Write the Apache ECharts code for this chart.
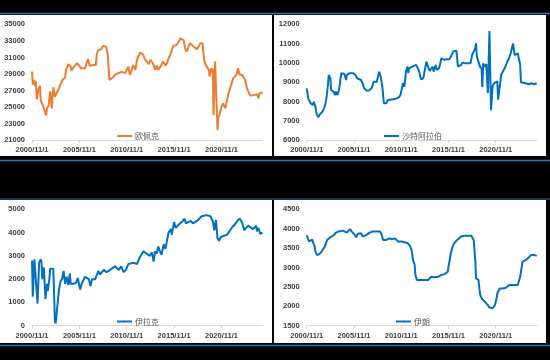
<!DOCTYPE html>
<html><head><meta charset="utf-8">
<script src="https://cdn.jsdelivr.net/npm/echarts@6/dist/echarts.min.js"></script>
<style>html,body{margin:0;padding:0;background:#000}#c{width:550px;height:360px}</style>
</head><body><div id="c"></div>
<script>
// ---- x axis (month index counted from 2000/11) ----
const xTicks = [0, 60, 120, 180, 240];
const xTickLabels = ['2000/11/1', '2005/11/1', '2010/11/1', '2015/11/1', '2020/11/1'];

// ---- 欧佩克 ----
const opecDates = ['2000-11','2000-12','2001-02','2001-03','2001-04','2001-05','2001-07','2001-09','2001-10','2002-01','2002-03','2002-05','2002-06','2002-08','2002-10','2002-12','2003-02','2003-04','2003-06','2003-09','2003-12','2004-02','2004-04','2004-05','2004-06','2004-09','2004-12','2005-01','2005-03','2005-05','2005-08','2005-11','2006-01','2006-03','2006-06','2006-08','2006-10','2006-12','2007-02','2007-05','2007-08','2007-09','2007-11','2008-01','2008-03','2008-05','2008-07','2008-09','2008-11','2009-01','2009-03','2009-06','2009-08','2009-10','2010-01','2010-05','2010-09','2010-11','2011-01','2011-03','2011-05','2011-07','2011-10','2011-12','2012-02','2012-04','2012-06','2012-08','2012-10','2012-12','2013-03','2013-05','2013-07','2013-09','2013-11','2014-01','2014-03','2014-05','2014-07','2014-09','2014-12','2015-02','2015-04','2015-06','2015-08','2015-10','2015-12','2016-02','2016-05','2016-07','2016-09','2016-11','2017-01','2017-03','2017-05','2017-07','2017-09','2017-12','2018-02','2018-04','2018-06','2018-08','2018-10','2018-11','2019-01','2019-03','2019-05','2019-07','2019-08','2019-10','2019-11','2019-12','2020-01','2020-03','2020-06','2020-07','2020-09','2020-11','2021-01','2021-04','2021-06','2021-08','2021-10','2021-12','2022-02','2022-04','2022-06','2022-08','2022-10','2023-01','2023-03','2023-05','2023-07','2023-09','2023-10','2023-12','2024-03','2024-05','2024-08','2024-10','2024-11','2025-01','2025-03'];
const opecValues = [29300,27700,28300,27550,28100,25950,27100,27600,25850,25150,25050,24000,24900,25150,26900,24850,27400,26250,26450,27250,27950,28300,28150,28600,29500,30200,29900,29400,29700,29900,30300,30000,29700,29600,29700,29700,30800,30000,29900,30100,30100,31400,31900,32100,32000,32400,32600,32300,31300,28300,28150,28600,28900,29100,29150,29250,29100,29150,29900,28900,29400,30100,29500,30700,31200,31600,31400,31300,30800,30700,30200,30700,30450,30100,29500,30000,29500,29700,30100,30500,30000,30300,30900,31300,31500,32400,32300,32500,32900,33300,33300,33100,32100,31700,32200,32700,32700,32300,32100,32000,32300,32700,32900,32700,30700,30100,29900,29500,28700,29700,29300,29700,24050,30500,22250,23650,24250,25050,25450,24850,25850,26650,27300,27900,28500,28550,28900,29700,28900,28900,28700,28300,27400,27350,26650,26400,26450,26600,26550,26050,26650,26600,26800];
const opecTicks = [21000, 23000, 25000, 27000, 29000, 31000, 33000, 35000];

// ---- 沙特阿拉伯 ----
const saudiDates = ['2000-11','2001-01','2001-02','2001-04','2001-05','2001-07','2001-08','2001-10','2001-11','2001-12','2002-02','2002-03','2002-05','2002-07','2002-09','2002-11','2002-12','2003-02','2003-03','2003-05','2003-06','2003-07','2003-09','2003-11','2003-12','2004-02','2004-03','2004-04','2004-06','2004-07','2004-09','2004-11','2005-01','2005-02','2005-05','2005-07','2005-10','2006-01','2006-03','2006-05','2006-08','2006-10','2006-12','2007-03','2007-06','2007-08','2007-10','2007-12','2008-02','2008-04','2008-06','2008-07','2008-09','2008-11','2009-01','2009-04','2009-06','2009-08','2010-01','2010-05','2010-08','2010-10','2010-12','2011-01','2011-03','2011-04','2011-05','2011-07','2011-08','2011-09','2011-11','2012-01','2012-03','2012-06','2012-08','2012-10','2012-12','2013-03','2013-05','2013-07','2013-09','2013-11','2014-01','2014-03','2014-04','2014-07','2014-08','2014-11','2015-02','2015-04','2015-06','2015-09','2015-12','2016-02','2016-05','2016-09','2016-10','2016-11','2017-01','2017-03','2017-05','2017-08','2017-11','2018-01','2018-03','2018-05','2018-07','2018-09','2018-10','2018-11','2019-01','2019-03','2019-05','2019-06','2019-07','2019-09','2019-11','2020-01','2020-03','2020-05','2020-07','2020-09','2020-11','2021-01','2021-02','2021-04','2021-06','2021-08','2021-10','2021-12','2022-02','2022-04','2022-06','2022-08','2022-09','2022-10','2022-11','2023-01','2023-03','2023-05','2023-06','2023-07','2023-09','2024-01','2024-03','2024-05','2024-08','2024-12','2025-03'];
const saudiValues = [8690,8170,8090,7910,8000,7830,8000,7740,7480,7310,7190,7310,7400,7480,7650,7910,8170,8860,9380,9210,8600,8520,8520,8340,8520,8340,8260,8600,9210,9470,9500,9430,9120,9380,9470,9500,9470,9380,9210,9160,9120,8950,8690,8570,8570,8600,8740,9030,9120,9030,9380,9550,9290,8780,7910,7910,8090,8140,8120,8170,8220,8340,8690,8950,8780,9120,9550,9810,9470,9720,9640,9810,9900,9900,9810,9550,9160,9210,9640,10070,9810,9590,9640,9810,9550,9900,9640,9720,10240,10330,10160,10190,10190,10330,10590,10640,10240,9810,9900,9900,10020,9980,9980,9900,9980,10410,10500,10760,11020,10330,10070,9810,9700,8750,9980,9800,9950,8450,11650,7550,8800,8950,9000,9050,8100,8100,9400,9500,9700,9900,10100,10250,10500,10850,11000,10700,10400,10350,10500,10400,9900,9000,8950,8950,9000,8900,8950,8900,8950];
const saudiTicks = [6000, 7000, 8000, 9000, 10000, 11000, 12000];

// ---- 伊拉克 ----
const iraqDates = ['2000-11','2000-12','2001-02','2001-04','2001-06','2001-08','2001-10','2001-11','2001-12','2002-02','2002-04','2002-06','2002-07','2002-09','2002-10','2002-12','2003-02','2003-04','2003-05','2003-07','2003-09','2003-11','2004-01','2004-03','2004-05','2004-07','2004-09','2004-11','2004-12','2005-04','2005-07','2005-09','2005-12','2006-02','2006-06','2006-11','2007-01','2007-03','2007-07','2007-11','2008-01','2008-06','2008-09','2008-12','2009-04','2009-08','2010-01','2010-04','2010-07','2010-10','2011-01','2011-08','2011-12','2012-03','2012-08','2012-12','2013-04','2013-07','2013-09','2013-11','2014-01','2014-03','2014-05','2014-07','2014-10','2014-12','2015-04','2015-07','2015-08','2015-11','2016-01','2016-05','2016-07','2016-10','2016-12','2017-02','2017-05','2017-08','2017-11','2018-04','2018-06','2018-10','2018-12','2019-04','2019-09','2019-12','2020-02','2020-04','2020-06','2020-08','2020-10','2021-01','2021-06','2021-10','2022-01','2022-04','2022-07','2022-10','2023-01','2023-03','2023-04','2023-06','2023-09','2023-11','2024-03','2024-05','2024-07','2024-08','2024-10','2024-12','2025-03'];
const iraqValues = [2800,1250,2850,2900,950,2700,2850,2750,2000,2500,1150,1800,1500,2000,2450,2500,2450,200,100,800,1500,1900,2000,2350,1800,2100,1750,2250,1800,1800,1850,2050,1550,1800,2100,2000,1700,2000,2000,2350,2200,2400,2300,2350,2450,2550,2400,2550,2300,2400,2650,2700,2650,2900,3200,3100,3000,3150,2750,3200,3100,3400,3200,3050,3500,3300,4000,4150,3900,4450,4200,4350,4300,4500,4600,4400,4450,4500,4400,4500,4550,4700,4650,4750,4700,4500,4100,4550,3750,3650,3800,3850,3900,4100,4250,4350,4500,4600,4450,4400,4100,4200,4300,4300,4150,4150,4300,4050,4200,3950,4000];
const iraqTicks = [0, 1000, 2000, 3000, 4000, 5000];

// ---- 伊朗 ----
const iranDates = ['2000-11','2001-01','2001-02','2001-04','2001-06','2001-07','2001-09','2001-10','2001-12','2002-03','2002-05','2002-06','2002-08','2002-10','2002-11','2003-01','2003-03','2003-05','2003-07','2003-10','2003-12','2004-02','2004-04','2004-06','2004-09','2004-11','2005-02','2005-04','2005-06','2005-08','2005-10','2005-12','2006-02','2006-04','2006-06','2006-08','2006-10','2006-12','2007-03','2007-05','2007-07','2007-09','2007-11','2008-01','2008-04','2008-06','2008-08','2008-10','2008-12','2009-02','2009-04','2009-06','2009-08','2009-11','2010-03','2010-05','2010-07','2010-11','2011-03','2011-07','2011-10','2011-12','2012-02','2012-04','2012-05','2012-07','2012-09','2012-12','2013-05','2013-09','2013-11','2014-01','2014-05','2014-10','2015-02','2015-06','2015-08','2015-10','2015-12','2016-02','2016-05','2016-07','2016-09','2016-11','2017-01','2017-03','2017-05','2017-07','2017-11','2018-04','2018-06','2018-07','2018-09','2018-10','2018-12','2019-01','2019-03','2019-04','2019-06','2019-09','2019-11','2020-01','2020-03','2020-05','2020-07','2020-09','2020-10','2020-12','2021-01','2021-04','2021-06','2021-08','2021-10','2021-12','2022-02','2022-04','2022-10','2023-03','2023-05','2023-06','2023-08','2023-09','2023-11','2024-01','2024-03','2024-05','2024-08','2024-10','2024-12','2025-03'];
const iranValues = [3830,3780,3670,3710,3720,3710,3540,3410,3320,3345,3360,3410,3440,3540,3580,3710,3750,3780,3800,3840,3900,3900,3930,3950,3950,3930,3900,3950,3990,3930,3880,3840,3780,3870,3900,3880,3800,3780,3840,3880,3900,3880,3930,3900,3930,3900,3930,3860,3710,3670,3710,3730,3750,3730,3750,3710,3670,3670,3650,3630,3560,3460,3190,3070,2810,2680,2700,2680,2680,2680,2720,2760,2750,2760,2810,2830,2850,2890,2930,3370,3580,3640,3680,3730,3780,3800,3820,3820,3820,3820,3800,3710,3190,2720,2700,2680,2330,2250,2180,2120,2070,2030,1970,1950,1950,1950,2030,2200,2330,2460,2480,2460,2480,2480,2520,2550,2550,2550,2590,2760,3020,3150,3180,3190,3240,3260,3320,3280,3320,3300];
const iranTicks = [1500, 2000, 2500, 3000, 3500, 4000, 4500];

const toIdx = d => { const p = d.split('-').map(Number); return (p[0] - 2000) * 12 + (p[1] - 11); };
const pairs = (ds, vs) => ds.map((d, i) => [toIdx(d), vs[i]]);

const panels = [
  { name: '欧佩克', dates: opecDates, values: opecValues, ticks: opecTicks, color: '#ED7D31',
    grid: { left: 32, top: 24.3, width: 230.5, height: 116 }, legend: { left: 117, top: 132 } },
  { name: '沙特阿拉伯', dates: saudiDates, values: saudiValues, ticks: saudiTicks, color: '#0070C0',
    grid: { left: 306.7, top: 24.3, width: 230, height: 116 }, legend: { left: 384, top: 132 } },
  { name: '伊拉克', dates: iraqDates, values: iraqValues, ticks: iraqTicks, color: '#0070C0',
    grid: { left: 32, top: 209.3, width: 230.5, height: 116.4 }, legend: { left: 117, top: 317.5 } },
  { name: '伊朗', dates: iranDates, values: iranValues, ticks: iranTicks, color: '#0070C0',
    grid: { left: 306.7, top: 209.3, width: 230, height: 116.4 }, legend: { left: 396, top: 317.5 } }
];

const labelFont = { fontFamily: 'Liberation Sans', fontSize: 7.5, fontWeight: 'bold', color: '#404040' };

const option = {
  backgroundColor: '#000',
  animation: false,
  graphic: { elements: [
    { type: 'rect', z: -10, shape: { x: 0, y: 15, width: 272, height: 141 }, style: { fill: '#fff' }, silent: true },
    { type: 'rect', z: -10, shape: { x: 274, y: 15, width: 272, height: 141 }, style: { fill: '#fff' }, silent: true },
    { type: 'rect', z: -10, shape: { x: 0, y: 200, width: 272, height: 143 }, style: { fill: '#fff' }, silent: true },
    { type: 'rect', z: -10, shape: { x: 274, y: 200, width: 272, height: 143 }, style: { fill: '#fff' }, silent: true },
    { type: 'line', z: -9, shape: { x1: 0, y1: 13.5, x2: 550, y2: 13.5 }, style: { stroke: '#2E75B6', lineWidth: 1.5 }, silent: true },
    { type: 'line', z: -9, shape: { x1: 0, y1: 160.5, x2: 550, y2: 160.5 }, style: { stroke: '#2E75B6', lineWidth: 1.5 }, silent: true },
    { type: 'line', z: -9, shape: { x1: 0, y1: 199, x2: 550, y2: 199 }, style: { stroke: '#4a6f99', lineWidth: 1 }, silent: true },
    { type: 'line', z: -9, shape: { x1: 0, y1: 345.5, x2: 550, y2: 345.5 }, style: { stroke: '#2E75B6', lineWidth: 1.5 }, silent: true }
  ]},
  grid: panels.map(p => Object.assign({ containLabel: false }, p.grid)),
  legend: panels.map((p, i) => ({
    data: [p.name], left: p.legend.left, top: p.legend.top, padding: 0,
    icon: 'rect', itemWidth: 15, itemHeight: 2, itemGap: 0,
    textStyle: { fontFamily: 'Noto Sans CJK SC', fontSize: 8, color: '#595959', padding: [0, 0, 0, -2] }
  })),
  xAxis: panels.map((p, i) => ({
    type: 'value', gridIndex: i, min: 0, max: 292,
    splitLine: { show: false },
    axisLine: { show: true, lineStyle: { color: '#d9d9d9', width: 1 } },
    axisTick: { show: true, length: 3, lineStyle: { color: '#d9d9d9' }, customValues: xTicks },
    axisLabel: Object.assign({ margin: 6, customValues: xTicks,
      formatter: v => { const k = xTicks.indexOf(v); return k >= 0 ? xTickLabels[k] : ''; } }, labelFont)
  })),
  yAxis: panels.map((p, i) => ({
    type: 'value', gridIndex: i, min: p.ticks[0], max: p.ticks[p.ticks.length - 1],
    splitLine: { show: false }, axisLine: { show: false }, axisTick: { show: false },
    axisLabel: Object.assign({ margin: 7, customValues: p.ticks, formatter: v => String(v) }, labelFont)
  })),
  series: panels.map((p, i) => ({
    type: 'line', name: p.name, xAxisIndex: i, yAxisIndex: i,
    data: pairs(p.dates, p.values), symbol: 'none', smooth: false,
    lineStyle: { color: p.color, width: 2 }, itemStyle: { color: p.color }
  }))
};

echarts.init(document.getElementById('c'), null, { renderer: 'canvas' }).setOption(option);
</script></body></html>
